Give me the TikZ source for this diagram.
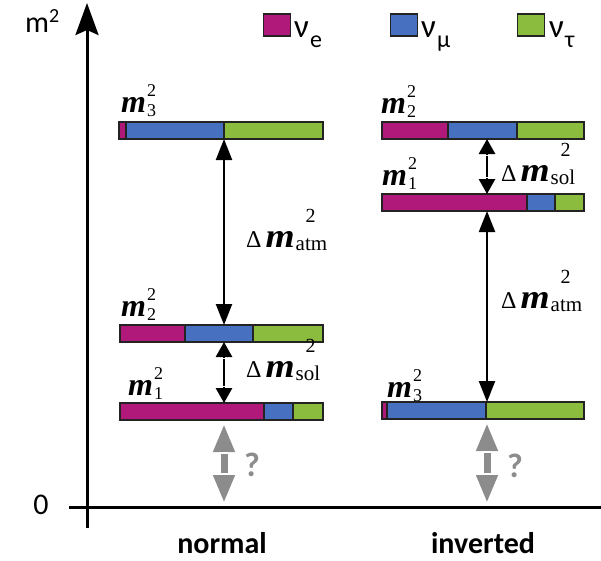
\documentclass[tikz,border=0pt]{standalone}
\usepackage{fontspec}
\usepackage{graphicx}
\setmainfont{Carlito}
\newfontfamily\serifx{Liberation Serif}
\usetikzlibrary{arrows.meta,calc}
\definecolor{ce}{RGB}{176,24,122}
\definecolor{cmu}{RGB}{72,112,192}
\definecolor{ctau}{RGB}{140,188,62}
\definecolor{qgray}{RGB}{140,140,140}
\definecolor{edge}{RGB}{35,35,35}
\newcommand{\msq}[1]{{\serifx\bfseries\itshape\fontsize{32}{32}\selectfont m}\kern1pt\rlap{\raisebox{16pt}{\serifx\fontsize{18}{18}\selectfont 2}}\raisebox{-4pt}{\serifx\fontsize{18}{18}\selectfont #1}}
\newcommand{\dmsq}[1]{{\serifx\fontsize{24}{24}\selectfont Δ}\kern4pt\scalebox{1.1}[1]{\serifx\bfseries\itshape\fontsize{34}{34}\selectfont m}\kern1pt\rlap{\kern10pt\raisebox{25pt}{\serifx\fontsize{20}{20}\selectfont 2}}\raisebox{-3pt}{\serifx\fontsize{21}{21}\selectfont #1}}
\newcommand{\massbar}[6]{%
  \fill[ce] (#2,#3) rectangle (#4,#3+17);
  \fill[cmu] (#4,#3) rectangle (#5,#3+17);
  \fill[ctau] (#5,#3) rectangle (#6,#3+17);
  \draw[edge,line width=1.6pt] (#4,#3) -- (#4,#3+17) (#5,#3) -- (#5,#3+17);
  \node[draw=edge,line width=1.6pt,inner sep=0pt,outer sep=0pt,minimum width={#6-#2},minimum height=17,anchor=north west] (#1) at (#2,#3) {};
}
\tikzset{
  axisline/.style={line width=3pt,black},
  atmarrow/.style={line width=2.2pt,{Triangle[width=16pt,length=21pt]}-{Triangle[width=16pt,length=21pt]}},
  solarrow/.style={line width=2.8pt,{Triangle[width=16pt,length=15pt]}-{Triangle[width=16pt,length=15pt]}},
  qarrow/.style={qgray,line width=7pt,{Triangle[width=20pt,length=28pt]}-{Triangle[width=20pt,length=28pt]},shorten <=4pt,shorten >=4pt},
  gapline/.style={white,line width=1.3pt},
  legsq/.style={draw=edge,line width=1.5pt,minimum width=27,minimum height=22,inner sep=0pt},
  lab/.style={inner sep=0pt,anchor=base west},
}
\begin{document}
\begin{tikzpicture}[x=1pt,y=-1pt]
\useasboundingbox (0,0) rectangle (601,560);
% axes
\coordinate (yb) at (87,528);
\coordinate (yt) at (87,3);
\coordinate (xl) at (69,507);
\coordinate (xr) at (601,507);
\draw[axisline,-{Stealth[width=23pt,length=32pt,inset=5pt]}] (yb) -- (yt);
\draw[axisline] (xl) -- (xr);
\node[lab,font=\fontsize{30}{30}\selectfont] (ylab) at (25,32) {m\raisebox{10pt}{\fontsize{20}{20}\selectfont 2}};
\node[font=\fontsize{30}{30}\selectfont,inner sep=0pt] (zero) at (41,505) {0};
\node[font=\bfseries\fontsize{30}{30}\selectfont,inner sep=0pt,anchor=base] (tnormal) at (222,553) {normal};
\node[font=\bfseries\fontsize{30}{30}\selectfont,inner sep=0pt,anchor=base] (tinv) at (483,553) {inverted};
% legend
\node[legsq,fill=ce] (lge) at (277,25) {};
\node[legsq,fill=cmu] (lgm) at (404,25) {};
\node[legsq,fill=ctau] (lgt) at (531,25) {};
\node[lab] (tle) at (294,37) {\fontsize{33}{33}\selectfont ν\kern1pt\raisebox{-10pt}{\fontsize{24}{24}\selectfont e}};
\node[lab] (tlm) at (421,37) {\fontsize{33}{33}\selectfont ν\kern1pt\raisebox{-10pt}{\fontsize{24}{24}\selectfont μ}};
\node[lab] (tlt) at (549,37) {\fontsize{33}{33}\selectfont ν\kern1pt\raisebox{-10pt}{\fontsize{24}{24}\selectfont τ}};
% bars normal
\massbar{N3}{119}{122}{126}{224}{323}
\massbar{N2}{120}{325}{185}{253}{323}
\massbar{N1}{120}{403}{264}{293}{323}
% bars inverted
\massbar{I2}{382}{122}{448}{517}{584}
\massbar{I1}{382}{194}{527}{555}{584}
\massbar{I3}{382}{402}{387}{486}{584}
% bar labels
\node[lab] (lN3) at (121,112) {\msq{3}};
\node[lab] (lN2) at (121,316) {\msq{2}};
\node[lab] (lN1) at (128,395) {\msq{1}};
\node[lab] (lI2) at (381,113) {\msq{2}};
\node[lab] (lI1) at (382,185) {\msq{1}};
\node[lab] (lI3) at (387,397) {\msq{3}};
% arrows
\coordinate (na) at (224,0);
\coordinate (ia) at (487,0);
\draw[atmarrow] (na |- N3.south) -- (na |- N2.north);
\draw[solarrow] (na |- N2.south) -- (na |- N1.north);
\draw[gapline] ($(na |- N2.south)+(-3,16.5)$) -- ++(6,0);
\draw[gapline] ($(na |- N1.north)+(-3,-16.5)$) -- ++(6,0);
\draw[qarrow] (na |- N1.south) -- (na |- xl);
\draw[gapline,line width=2pt] ($(na |- N1.south)+(-5,33)$) -- ++(10,0);
\draw[gapline,line width=2pt] ($(na |- xl)+(-5,-33)$) -- ++(10,0);
\draw[solarrow] (ia |- I2.south) -- (ia |- I1.north);
\draw[gapline] ($(ia |- I2.south)+(-3,16.5)$) -- ++(6,0);
\draw[gapline] ($(ia |- I1.north)+(-3,-16.5)$) -- ++(6,0);
\draw[atmarrow] (ia |- I1.south) -- (ia |- I3.north);
\draw[qarrow] (ia |- I3.south) -- (ia |- xl);
\draw[gapline,line width=2pt] ($(ia |- I3.south)+(-5,33)$) -- ++(10,0);
\draw[gapline,line width=2pt] ($(ia |- xl)+(-5,-33)$) -- ++(10,0);
% delta labels
\node[lab] (dNa) at (246,247) {\dmsq{atm}};
\node[lab] (dNs) at (246,377) {\dmsq{sol}};
\node[lab] (dIs) at (501,181) {\dmsq{sol}};
\node[lab] (dIa) at (501,308) {\dmsq{atm}};
\node[qgray,font=\bfseries\fontsize{34}{34}\selectfont,inner sep=0pt] (qN) at (252,465) {?};
\node[qgray,font=\bfseries\fontsize{34}{34}\selectfont,inner sep=0pt] (qI) at (515,466) {?};
\end{tikzpicture}
\end{document}
